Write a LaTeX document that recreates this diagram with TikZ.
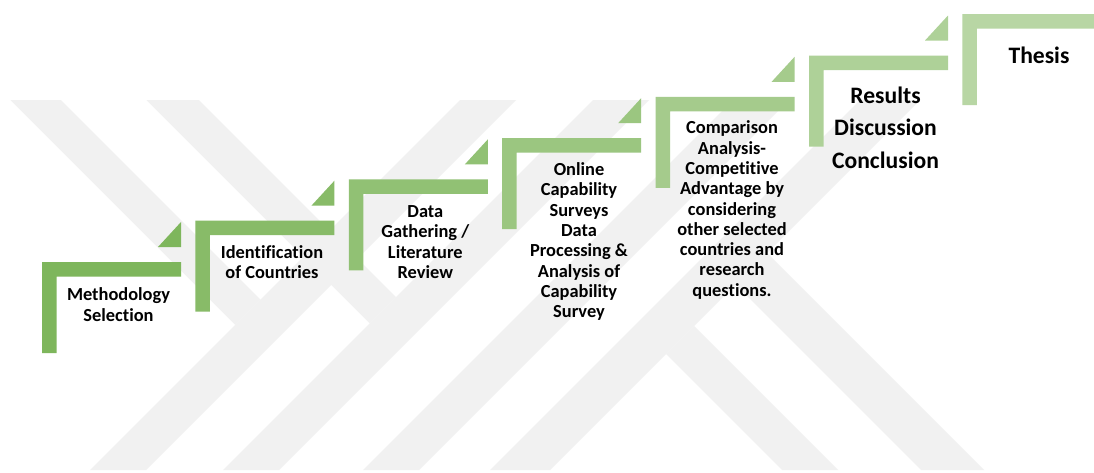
\documentclass[tikz,border=0pt]{standalone}
\usepackage{fontspec}
\setmainfont[RawFeature=-liga]{Carlito}

\definecolor{stepfirst}{RGB}{126,182,92}
\definecolor{steplast}{RGB}{184,214,164}
\definecolor{wmgray}{RGB}{241,241,241}

\tikzset{
  wmband/.style={fill=wmgray, draw=none},
  steplabel/.style={font=\bfseries\fontsize{18.4}{20.3}\selectfont, align=center, text=black, inner sep=0pt},
  steplabelbig/.style={font=\bfseries\fontsize{23.6}{32.5}\selectfont, align=center, text=black, inner sep=0pt},
}

% one stair: L-shaped bar plus the small triangle above its right end
\newcommand{\stairstep}[2]{%
  \pgfmathsetmacro{\stx}{42+153.4*#1}%
  \pgfmathsetmacro{\sty}{262-41.3*#1}%
  \fill[#2] (\stx,\sty) -- ++(139,0) -- ++(0,14.5) -- ++(-124.5,0) -- ++(0,76.5) -- ++(-14.5,0) -- cycle;
  \fill[#2] (\stx+139,\sty-40) -- ++(0,25) -- ++(-23,0) -- cycle;
}

\begin{document}
\begin{tikzpicture}[x=1pt,y=-1pt]
  \useasboundingbox (0,0) rectangle (1094,472);
  \clip (0,0) rectangle (1094,472);
  \fill[white] (0,0) rectangle (1094,472);

  % faint background emblem
  \fill[wmband] (90,470) -- (146,470) -- (516,100) -- (460,100) -- cycle;
  \fill[wmband] (223,470) -- (279,470) -- (649,100) -- (593,100) -- cycle;
  \fill[wmband] (363,470) -- (419,470) -- (789,100) -- (733,100) -- cycle;
  \fill[wmband] (490,470) -- (550,470) -- (920,100) -- (860,100) -- cycle;
  \fill[wmband] (10.5,100) -- (61,100) -- (260.5,299.5) -- (235.25,324.75) -- cycle;
  \fill[wmband] (146.5,100) -- (199,100) -- (396,297) -- (369.75,323.25) -- cycle;
  \fill[wmband] (782,470) -- (838,470) -- (694,326) -- (666,354) -- cycle;
  \fill[wmband] (921,470) -- (984,470) -- (767,253) -- (735.5,284.5) -- cycle;

  % the staircase, darker at the bottom, lighter at the top
  \foreach \i in {0,...,6} {
    \pgfmathtruncatemacro{\pct}{round(100*\i/6)}
    \stairstep{\i}{steplast!\pct!stepfirst}
  }

  % step labels
  \node[steplabel] (s1) at (118.5,304.6) {Methodology\\Selection};
  \node[steplabel] (s2) at (272,262.2) {Identification\\of Countries};
  \node[steplabel] (s3) at (425.3,242.2) {Data\\Gathering /\\Literature\\Review};
  \node[steplabel] (s4) at (579,241.7) {Online\\Capability\\Surveys\\Data\\Processing \&\\Analysis of\\Capability\\Survey};
  \node[steplabel] (s5) at (732,210) {Comparison\\Analysis-\\Competitive\\Advantage by\\considering\\other selected\\countries and\\research\\questions.};
  \node[steplabelbig] (s6) at (885.5,127.8) {Results\\Discussion\\Conclusion};
  \node[steplabelbig] (s7) at (1039,55) {Thesis};
\end{tikzpicture}
\end{document}
